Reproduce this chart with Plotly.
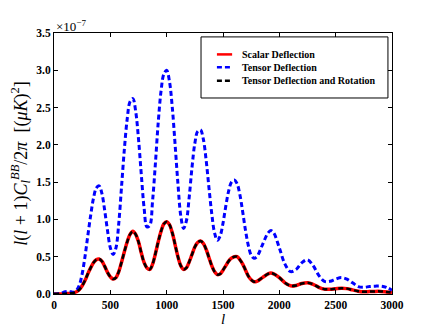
import plotly.graph_objects as go

# multipole l and l(l+1)C_l^BB/2pi in units of 1e-7 (muK)^2
l_tensor = [0, 50, 100, 125, 150, 175, 200, 225, 250, 275, 300, 325, 350, 375, 400, 425,
            450, 475, 500, 525, 550, 575, 600, 625, 650, 675, 700, 725, 750, 775, 800, 825,
            850, 875, 900, 925, 950, 975, 1000, 1025, 1050, 1075, 1100, 1125, 1150, 1175,
            1200, 1225, 1250, 1275, 1300, 1325, 1350, 1375, 1400, 1425, 1450, 1475, 1500,
            1525, 1550, 1575, 1600, 1625, 1650, 1675, 1700, 1725, 1750, 1775, 1800, 1850,
            1900, 1925, 1950, 2000, 2050, 2100, 2150, 2200, 2250, 2300, 2350, 2400, 2450,
            2500, 2550, 2600, 2650, 2700, 2750, 2800, 2850, 2900, 2950, 3000]
cl_tensor = [0.0, 0.005, 0.03, 0.035, 0.03, 0.025, 0.05, 0.12, 0.27, 0.5, 0.78, 1.05, 1.28,
             1.42, 1.45, 1.35, 1.12, 0.85, 0.62, 0.53, 0.62, 0.95, 1.45, 1.95, 2.35, 2.58,
             2.62, 2.45, 2.08, 1.6, 1.15, 0.9, 0.92, 1.25, 1.75, 2.3, 2.72, 2.95, 3.0, 2.85,
             2.5, 2.0, 1.48, 1.05, 0.88, 0.98, 1.3, 1.7, 2.02, 2.18, 2.2, 2.08, 1.8, 1.43,
             1.08, 0.82, 0.72, 0.78, 0.95, 1.18, 1.38, 1.5, 1.53, 1.48, 1.33, 1.1, 0.85, 0.65,
             0.52, 0.48, 0.5, 0.66, 0.82, 0.85, 0.82, 0.62, 0.4, 0.3, 0.33, 0.42, 0.46, 0.38,
             0.25, 0.17, 0.17, 0.2, 0.22, 0.2, 0.15, 0.1, 0.09, 0.1, 0.105, 0.107, 0.09, 0.05]

l_scalar = [0, 100, 150, 200, 225, 250, 275, 300, 325, 350, 375, 400, 425, 450, 475, 500,
            525, 550, 575, 600, 625, 650, 675, 700, 725, 750, 775, 800, 825, 850, 875, 900,
            925, 950, 975, 1000, 1025, 1050, 1075, 1100, 1125, 1150, 1175, 1200, 1225, 1250,
            1275, 1300, 1325, 1350, 1375, 1400, 1425, 1450, 1475, 1500, 1525, 1550, 1575,
            1600, 1625, 1650, 1675, 1700, 1725, 1750, 1775, 1800, 1850, 1900, 1925, 1950,
            2000, 2050, 2100, 2150, 2200, 2250, 2300, 2350, 2400, 2450, 2500, 2550, 2600,
            2650, 2700, 2750, 2800, 2850, 2900, 2950, 3000]
cl_scalar = [0.0, 0.005, 0.01, 0.03, 0.06, 0.11, 0.18, 0.27, 0.35, 0.42, 0.46, 0.47, 0.44,
             0.37, 0.29, 0.23, 0.2, 0.22, 0.3, 0.43, 0.57, 0.7, 0.8, 0.84, 0.8, 0.7, 0.55,
             0.42, 0.35, 0.33, 0.4, 0.54, 0.7, 0.84, 0.94, 0.97, 0.93, 0.82, 0.66, 0.5, 0.38,
             0.33, 0.35, 0.43, 0.53, 0.63, 0.69, 0.71, 0.68, 0.6, 0.49, 0.38, 0.3, 0.26, 0.27,
             0.32, 0.38, 0.44, 0.48, 0.5, 0.5, 0.46, 0.4, 0.32, 0.24, 0.19, 0.165, 0.17, 0.22,
             0.27, 0.28, 0.27, 0.22, 0.15, 0.11, 0.115, 0.14, 0.15, 0.13, 0.09, 0.065, 0.063,
             0.07, 0.076, 0.072, 0.055, 0.038, 0.03, 0.032, 0.035, 0.035, 0.028, 0.02]

# deflection + rotation sits right on top of the scalar curve
l_rot = list(l_scalar)
cl_rot = list(cl_scalar)

x_ticks = [0, 500, 1000, 1500, 2000, 2500, 3000]
y_ticks = [0.0, 0.5, 1.0, 1.5, 2.0, 2.5, 3.0, 3.5]

legend_names = ["Scalar Deflection", "Tensor Deflection", "Tensor Deflection and Rotation"]
legend_colors = ["red", "blue", "black"]
legend_dash = ["solid", "5px,3px", "5px,3px"]

serif = "Liberation Serif, DejaVu Serif, serif"
dash = "5px,3px"

fig = go.Figure()
fig.add_trace(go.Scatter(x=l_scalar, y=cl_scalar, mode="lines", name=legend_names[0],
                         line=dict(color="red", width=3.5, shape="spline", smoothing=1)))
fig.add_trace(go.Scatter(x=l_tensor, y=cl_tensor, mode="lines", name=legend_names[1],
                         line=dict(color="blue", width=3, dash=dash, shape="spline", smoothing=1)))
fig.add_trace(go.Scatter(x=l_rot, y=cl_rot, mode="lines", name=legend_names[2],
                         line=dict(color="black", width=2.5, dash=dash, shape="spline", smoothing=1)))

axis_style = dict(showline=True, linecolor="black", linewidth=1, mirror="ticks",
                  ticks="inside", ticklen=4, tickcolor="black", showgrid=False, zeroline=False,
                  automargin=False,
                  tickfont=dict(family=serif, size=11.5, color="black"))

fig.update_xaxes(range=[0, 3000], tickvals=x_ticks, ticktext=[f"<b>{v}</b>" for v in x_ticks],
                 **axis_style)
fig.update_yaxes(range=[0, 3.5], tickvals=y_ticks, ticktext=[f"<b>{v:.1f}</b>" for v in y_ticks],
                 title=dict(text="<i>l</i>(<i>l</i> + 1)<i>C</i><sub><i>l</i></sub><sup><i>BB</i></sup>/2<i>π</i>  [(<i>μK</i>)<sup>2</sup>]",
                            font=dict(family=serif, size=18, color="black"), standoff=4),
                 **axis_style)

# x label placed by hand so it stays inside the small canvas
fig.add_annotation(x=0.5, y=0, xref="paper", yref="paper", xanchor="center", yanchor="top",
                   text="<i>l</i>", showarrow=False, yshift=-15,
                   font=dict(family=serif, size=15, color="black"))

fig.add_annotation(x=0, y=1, xref="paper", yref="paper", xanchor="left", yanchor="bottom",
                   text="×10<sup>−7</sup>", showarrow=False, yshift=-3,
                   font=dict(family=serif, size=13, color="black"))

# legend box drawn by hand so the rows sit as close as in the original
fig.add_shape(type="rect", xref="paper", yref="paper", x0=0.435, x1=0.988, y0=0.751, y1=0.985,
              line=dict(color="black", width=1), fillcolor="white", layer="above")
rows_y = [0.918, 0.869, 0.817]
for name, color, ld, yy in zip(legend_names, legend_colors, legend_dash, rows_y):
    fig.add_shape(type="line", xref="paper", yref="paper", x0=0.482, x1=0.527, y0=yy, y1=yy,
                  line=dict(color=color, width=2.5, dash=ld), layer="above")
    fig.add_annotation(x=0.55, y=yy, xref="paper", yref="paper", xanchor="left", yanchor="middle",
                       text=f"<b>{name}</b>", showarrow=False,
                       font=dict(family=serif, size=10, color="black"))

# the page body adds an 8px offset, so the figure is 8px smaller than the window
fig.update_layout(
    width=428, height=319,
    margin=dict(l=46, r=44, t=25, b=33),
    paper_bgcolor="white", plot_bgcolor="white",
    showlegend=False,
)

fig.write_html("out.html")
